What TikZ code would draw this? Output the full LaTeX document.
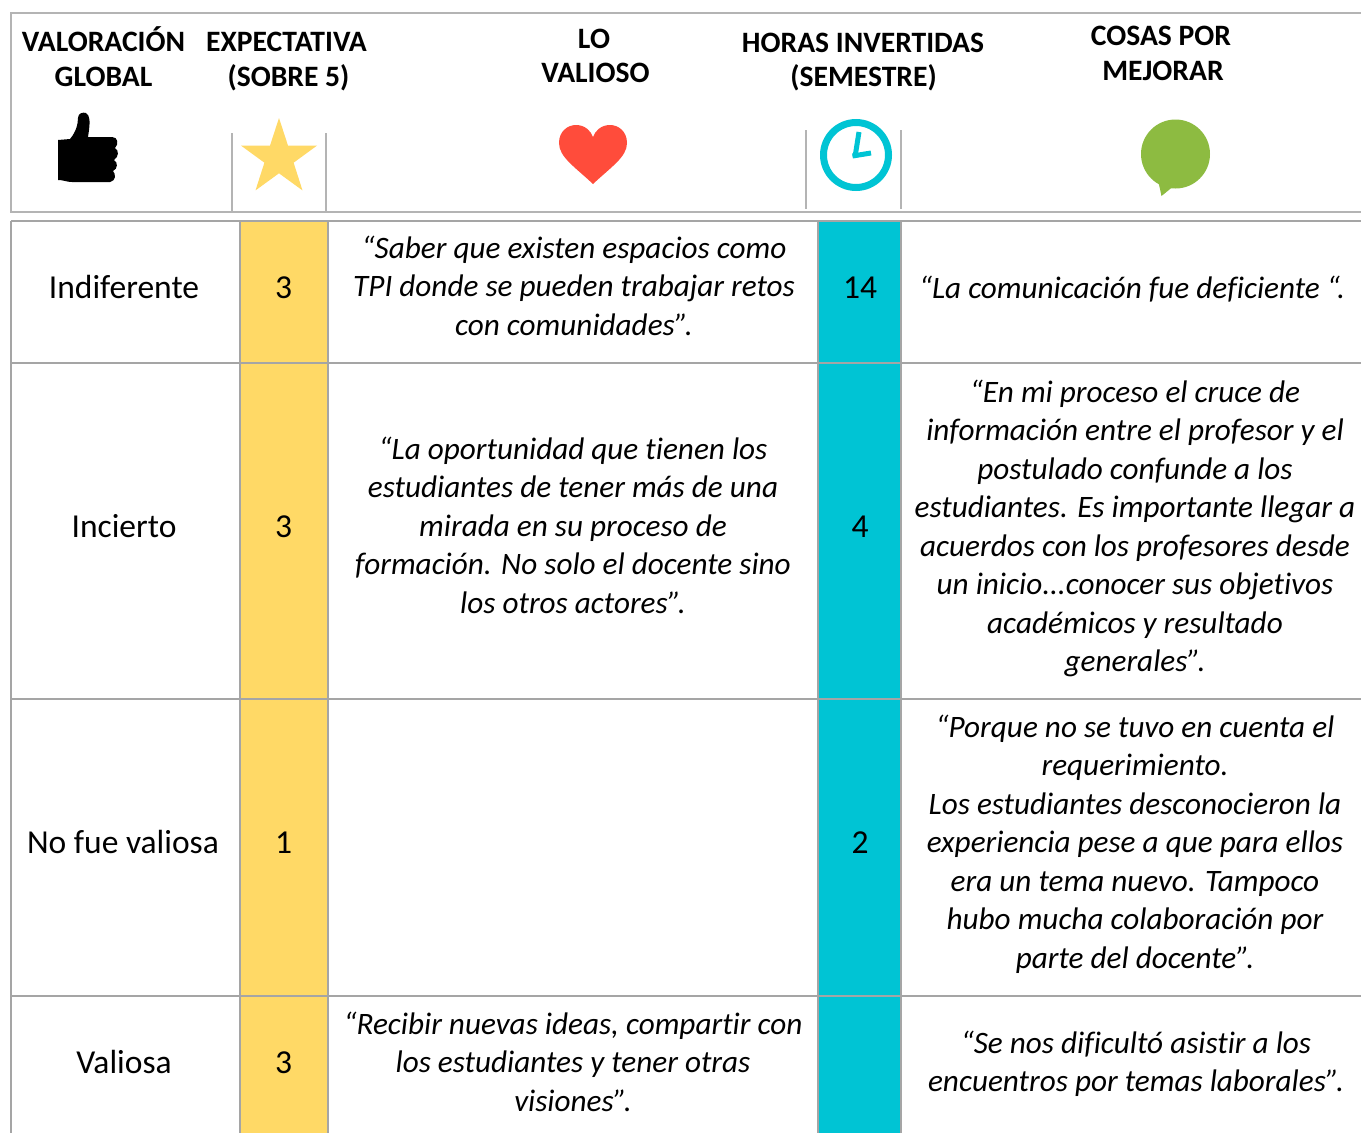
\documentclass[tikz,border=0pt]{standalone}
\usepackage{fontspec}
\setmainfont{Carlito}[Ligatures={NoCommon}]
\definecolor{gridgray}{HTML}{A5A5A5}
\definecolor{hdrgray}{HTML}{B4B4B4}
\definecolor{goldfill}{HTML}{FFD966}
\definecolor{cyanfill}{HTML}{00C4D4}
\definecolor{heartred}{HTML}{FF4C3B}
\definecolor{bubblegreen}{HTML}{8DBB41}
\newcommand\qlines[5]{%
  \foreach \t [count=\i] in {#5} \node[#4] (#1-\i) at (#2,{#3+(\i-1)*38.5}) {\t};}
\begin{document}
\begin{tikzpicture}[x=1pt,y=-1pt,
  hdr/.style={font=\fontsize{29.6}{34}\selectfont\bfseries,anchor=base,inner sep=0pt},
  body/.style={font=\fontsize{33.5}{38.5}\selectfont,anchor=base,inner sep=0pt},
  quote/.style={font=\fontsize{31.2}{38.5}\selectfont\itshape,anchor=base,inner sep=0pt},
  gridline/.style={draw=gridgray,line width=2.6pt},
  hdrline/.style={draw=hdrgray,line width=2.6pt}]
\useasboundingbox (0,0) rectangle (1361,1133);
\fill[white] (0,0) rectangle (1361,1133);

% ---------- header box ----------
\draw[hdrline] (1375,13) -- (11,13) -- (11,212) -- (1375,212);
\draw[hdrline] (232,133) -- (232,212);
\draw[hdrline] (326,133) -- (326,212);
\draw[hdrline] (806,130) -- (806,209);
\draw[hdrline] (901,130) -- (901,209);

\node[hdr] (h1a) at (103.5,51) {VALORACIÓN};
\node[hdr] (h1b) at (103.5,86) {GLOBAL};
\node[hdr] (h2a) at (286.5,51) {EXPECTATIVA};
\node[hdr] (h2b) at (288.5,86) {(SOBRE 5)};
\node[hdr] (h3a) at (594,48) {LO};
\node[hdr] (h3b) at (595.5,82) {VALIOSO};
\node[hdr] (h4a) at (863,52) {HORAS INVERTIDAS};
\node[hdr] (h4b) at (863.5,86) {(SEMESTRE)};
\node[hdr] (h5a) at (1161,45) {COSAS POR};
\node[hdr] (h5b) at (1163,80) {MEJORAR};

% thumbs up
\fill[black] (58,140) -- (70,139) .. controls (76,132) and (78,124) .. (78,118)
  .. controls (78,113) and (83,112) .. (86,113) .. controls (90,115) and (90,122) .. (89,130)
  -- (88,137) -- (112,137) .. controls (118,137) and (119,144) .. (115,148)
  .. controls (119,150) and (119,157) .. (114,160) .. controls (118,162) and (118,169) .. (113,171)
  .. controls (116,174) and (116,181) .. (110,182) -- (72,182)
  .. controls (66,182) and (64,180) .. (60,180) -- (58,180) -- cycle;
% star
\fill[goldfill] (279,118) -- (288.0,145.6) -- (317.0,145.6) -- (293.6,162.7) -- (302.5,190.4)
  -- (279,173.3) -- (255.5,190.4) -- (264.4,162.7) -- (241.0,145.6) -- (270.0,145.6) -- cycle;
% heart
\fill[heartred] (593,184) .. controls (575,167) and (559,157) .. (559,143)
  .. controls (559,131) and (568,125) .. (576,125) .. controls (585,125) and (591,131) .. (593,137)
  .. controls (595,131) and (601,125) .. (610,125) .. controls (618,125) and (627,131) .. (627,143)
  .. controls (627,157) and (611,167) .. (593,184) -- cycle;
% clock
\draw[cyanfill,line width=7pt] (856,155) circle[radius=32.5];
\draw[cyanfill,line width=5pt,line cap=butt] (859,132) -- (855,157);
\draw[cyanfill,line width=5pt,line cap=butt] (852.5,156) -- (871,153);
% speech bubble
\fill[bubblegreen] (1175.5,154) circle[radius=34.5];
\fill[bubblegreen] (1158,180) -- (1161.5,196) -- (1175,185) -- cycle;

% ---------- table ----------
\fill[goldfill] (240,221) rectangle (328,1140);
\fill[cyanfill] (818,221) rectangle (901,1140);
\foreach \yy in {221,363,699,996} \draw[gridline] (11,\yy) -- (1375,\yy);
\foreach \xx in {11,240,328,818,901} \draw[gridline] (\xx,221) -- (\xx,1140);

% column 1
\node[body] (r1c1) at (124,298) {Indiferente};
\node[body] (r2c1) at (124,537) {Incierto};
\node[body] (r3c1) at (123,853) {No fue valiosa};
\node[body] (r4c1) at (124,1073) {Valiosa};
% column 2
\node[body] (r1c2) at (283.5,298) {3};
\node[body] (r2c2) at (283.5,537) {3};
\node[body] (r3c2) at (283.5,853) {1};
\node[body] (r4c2) at (283.5,1073) {3};
% column 4
\node[body] (r1c4) at (860,298) {14};
\node[body] (r2c4) at (860,537) {4};
\node[body] (r3c4) at (860,853) {2};

% column 3
\qlines{r1c3}{574}{258}{quote}{{“Saber que existen espacios como},{TPI donde se pueden trabajar retos},{con comunidades”.}}
\qlines{r2c3}{573}{459}{quote}{{“La oportunidad que tienen los},{estudiantes de tener más de una},{mirada en su proceso de},{formación. No solo el docente sino},{los otros actores”.}}
\qlines{r4c3}{573}{1034}{quote}{{“Recibir nuevas ideas, compartir con},{los estudiantes y tener otras},{visiones”.}}
% column 5
\node[quote] (r1c5) at (1132,298) {“La comunicación fue deficiente “.};
\qlines{r2c5}{1135}{402}{quote}{{“En mi proceso el cruce de},{información entre el profesor y el},{postulado confunde a los},{estudiantes. Es importante llegar a},{acuerdos con los profesores desde},{un inicio.{}.{}.conocer sus objetivos},{académicos y resultado},{generales”.}}
\qlines{r3c5}{1135}{737}{quote}{{“Porque no se tuvo en cuenta el},{requerimiento.},{Los estudiantes desconocieron la},{experiencia pese a que para ellos},{era un tema nuevo. Tampoco},{hubo mucha colaboración por},{parte del docente”.}}
\qlines{r4c5}{1136}{1053}{quote}{{“Se nos dificultó asistir a los},{encuentros por temas laborales”.}}
\end{tikzpicture}
\end{document}
